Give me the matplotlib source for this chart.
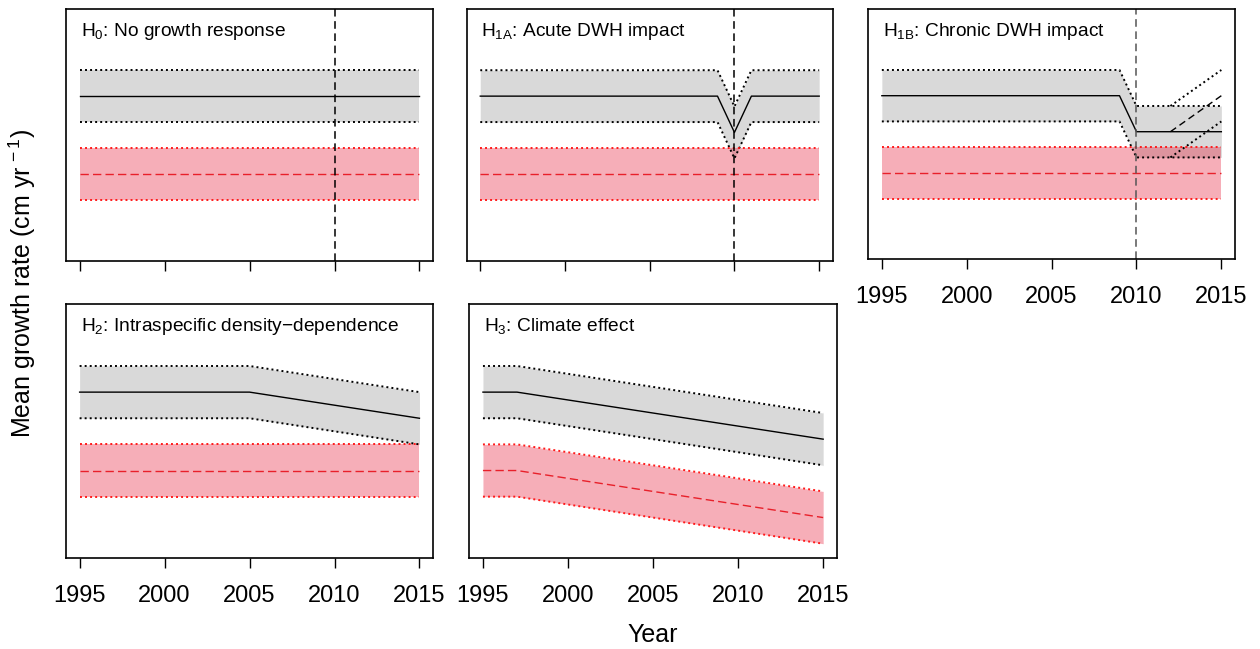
import matplotlib
matplotlib.use("Agg")
import matplotlib.pyplot as plt

plt.rcParams['font.family'] = ['Liberation Sans', 'DejaVu Sans']
plt.rcParams['mathtext.fontset'] = 'custom'
plt.rcParams['mathtext.rm'] = 'Liberation Sans'
plt.rcParams['mathtext.it'] = 'Liberation Sans'

# Year ticks shared by all panels
tick_years = [1995, 2000, 2005, 2010, 2015]
spill_year = 2010

# H0: no growth response
h0_years = [1995, 2015]
h0_mean = [6.0, 6.0]
h0_upper = [7.0, 7.0]
h0_lower = [5.0, 5.0]

# H1A: acute impact, one-year dip at 2010
h1a_years = [1995, 2009, 2010, 2011, 2015]
h1a_mean = [6.0, 6.0, 4.6, 6.0, 6.0]
h1a_upper = [7.0, 7.0, 5.6, 7.0, 7.0]
h1a_lower = [5.0, 5.0, 3.6, 5.0, 5.0]

# H1B: chronic impact, drop at 2010 with possible recovery from 2012
h1b_years = [1995, 2009, 2010, 2015]
h1b_mean = [6.0, 6.0, 4.6, 4.6]
h1b_upper = [7.0, 7.0, 5.6, 5.6]
h1b_lower = [5.0, 5.0, 3.6, 3.6]
rec_years = [2012, 2015]
rec_mean = [4.6, 6.0]
rec_upper = [5.6, 7.0]
rec_lower = [3.6, 5.0]

# H2: density dependence, decline after 2005
h2_years = [1995, 2005, 2015]
h2_mean = [6.0, 6.0, 5.0]
h2_upper = [7.0, 7.0, 6.0]
h2_lower = [5.0, 5.0, 4.0]

# H3: climate effect, both groups decline after 1997
h3_years = [1995, 1997, 2015]
h3_mean = [6.0, 6.0, 4.2]
h3_upper = [7.0, 7.0, 5.2]
h3_lower = [5.0, 5.0, 3.2]
h3_red_mean = [3.0, 3.0, 1.2]
h3_red_upper = [4.0, 4.0, 2.2]
h3_red_lower = [2.0, 2.0, 0.2]

# Reference (red) group, flat in most panels
red_years = [1995, 2015]
red_mean = [3.0, 3.0]
red_upper = [4.0, 4.0]
red_lower = [2.0, 2.0]

GREY_FILL = '#d9d9d9'
RED_FILL = (0.90, 0.01, 0.14, 0.32)
RED_LINE = '#e8202a'
RED_DOT = '#ff1a1a'


def band(ax, x, mean, up, lo, fill, line, dotc, mean_ls):
    ax.fill_between(x, lo, up, color=fill, lw=0)
    ax.plot(x, up, color=dotc, ls=(0, (1, 1.6)), lw=1.4)
    ax.plot(x, lo, color=dotc, ls=(0, (1, 1.6)), lw=1.4)
    ax.plot(x, mean, color=line, ls=mean_ls, lw=1.0)


def panel(ax, title, labels):
    ax.set_xlim(1994.2, 2015.8)
    ax.set_ylim(-0.36, 9.36)
    ax.set_yticks([])
    ax.set_xticks(tick_years)
    ax.tick_params(axis='x', direction='out', length=7, width=1.0,
                   labelsize=17, pad=12, labelbottom=labels)
    for s in ax.spines.values():
        s.set_linewidth(1.2)
    ax.text(0.04, 0.893, title, transform=ax.transAxes, fontsize=13.8,
            va='baseline', ha='left')


fig = plt.figure(figsize=(12.6, 6.49), dpi=100)

ax0 = fig.add_axes([0.0524, 0.5978, 0.2913, 0.3883])
ax1 = fig.add_axes([0.3704, 0.5978, 0.2905, 0.3883])
ax2 = fig.add_axes([0.6891, 0.6005, 0.2910, 0.3852])
ax3 = fig.add_axes([0.0524, 0.1397, 0.2913, 0.3914])
ax4 = fig.add_axes([0.3725, 0.1397, 0.2916, 0.3914])

# H0
band(ax0, h0_years, h0_mean, h0_upper, h0_lower, GREY_FILL, 'black', 'black', '-')
band(ax0, red_years, red_mean, red_upper, red_lower, RED_FILL, RED_LINE, RED_DOT, (0, (6, 3)))
ax0.axvline(spill_year, color='black', ls=(0, (5, 3)), lw=1.1)
panel(ax0, r'H$_{\mathrm{0}}$: No growth response', False)

# H1A
band(ax1, h1a_years, h1a_mean, h1a_upper, h1a_lower, GREY_FILL, 'black', 'black', '-')
band(ax1, red_years, red_mean, red_upper, red_lower, RED_FILL, RED_LINE, RED_DOT, (0, (6, 3)))
ax1.axvline(spill_year, color='black', ls=(0, (5, 3)), lw=1.1)
panel(ax1, r'H$_{\mathrm{1A}}$: Acute DWH impact', False)

# H1B
band(ax2, h1b_years, h1b_mean, h1b_upper, h1b_lower, GREY_FILL, 'black', 'black', '-')
ax2.plot(rec_years, rec_upper, color='black', ls=(0, (1, 1.6)), lw=1.4)
ax2.plot(rec_years, rec_lower, color='black', ls=(0, (1, 1.6)), lw=1.4)
ax2.plot(rec_years, rec_mean, color='black', ls=(0, (5, 3)), lw=1.0)
band(ax2, red_years, red_mean, red_upper, red_lower, RED_FILL, RED_LINE, RED_DOT, (0, (6, 3)))
ax2.axvline(spill_year, color='#555555', ls=(0, (5, 3)), lw=1.1)
panel(ax2, r'H$_{\mathrm{1B}}$: Chronic DWH impact', True)

# H2
band(ax3, h2_years, h2_mean, h2_upper, h2_lower, GREY_FILL, 'black', 'black', '-')
band(ax3, red_years, red_mean, red_upper, red_lower, RED_FILL, RED_LINE, RED_DOT, (0, (6, 3)))
panel(ax3, r'H$_{\mathrm{2}}$: Intraspecific density$-$dependence', True)

# H3
band(ax4, h3_years, h3_mean, h3_upper, h3_lower, GREY_FILL, 'black', 'black', '-')
band(ax4, h3_years, h3_red_mean, h3_red_upper, h3_red_lower, RED_FILL, RED_LINE, RED_DOT, (0, (6, 3)))
panel(ax4, r'H$_{\mathrm{3}}$: Climate effect', True)

fig.text(0.0175, 0.5624, r'Mean growth rate (cm yr$^{\,-1}$)', rotation=90,
         ha='center', va='center', fontsize=18)
fig.text(0.518, 0.0216, 'Year', ha='center', va='center', fontsize=18)

fig.savefig('out.png', dpi=100)
